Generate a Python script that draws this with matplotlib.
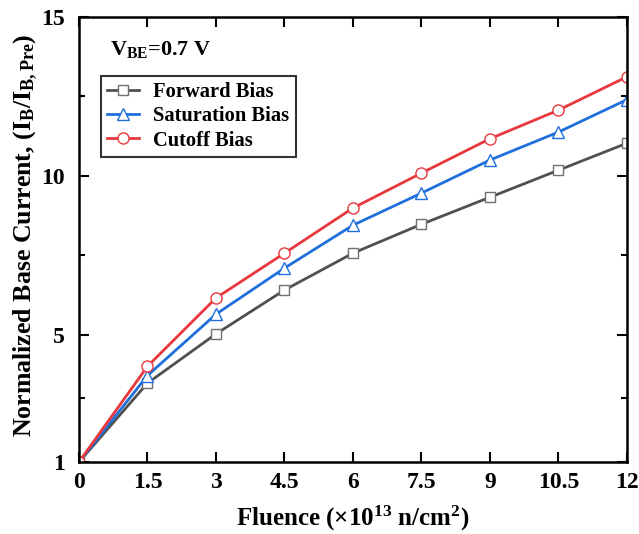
import numpy as np
import matplotlib.pyplot as plt
from matplotlib.ticker import FixedLocator

plt.rcParams['font.family'] = ['Liberation Serif', 'DejaVu Serif']
plt.rcParams['font.weight'] = 'bold'
plt.rcParams['mathtext.fontset'] = 'custom'
plt.rcParams['mathtext.rm'] = 'Liberation Serif:bold'
plt.rcParams['mathtext.it'] = 'Liberation Serif:bold'
plt.rcParams['mathtext.bf'] = 'Liberation Serif:bold'

fluence = [0, 1.5, 3, 4.5, 6, 7.5, 9, 10.5, 12]
forward_bias = [1.0, 3.48, 5.03, 6.41, 7.57, 8.48, 9.33, 10.18, 11.03]
saturation_bias = [1.0, 3.72, 5.65, 7.1, 8.45, 9.46, 10.5, 11.38, 12.4]
cutoff_bias = [1.0, 4.01, 6.16, 7.57, 8.99, 10.09, 11.17, 12.07, 13.12]

x_ticks = [0, 1.5, 3, 4.5, 6, 7.5, 9, 10.5, 12]
x_tick_labels = ['0', '1.5', '3', '4.5', '6', '7.5', '9', '10.5', '12']
y_ticks = [1, 5, 10, 15]
y_minor = [3, 7.5, 12.5]

fig = plt.figure(figsize=(6.39, 5.34), dpi=100)
ax = fig.add_axes([0.1236, 0.1348, 0.8576, 0.8334])

ax.plot(fluence, forward_bias, color='#505050', lw=2, marker='s', ms=7.5,
        mfc='white', mec='#707070', mew=1, label='Forward Bias')
ax.plot(fluence, saturation_bias, color='#1f6fdc', lw=2, marker='^', ms=8.5,
        mfc='white', mec='#1f6fdc', mew=1, label='Saturation Bias')
ax.plot(fluence, cutoff_bias, color='#e8383d', lw=2, marker='o', ms=8,
        mfc='white', mec='#e8383d', mew=1, label='Cutoff Bias')

ax.set_xlim(0, 12)
ax.set_ylim(1, 15)
ax.set_xticks(x_ticks)
ax.set_xticklabels(x_tick_labels)
ax.set_yticks(y_ticks)
ax.yaxis.set_minor_locator(FixedLocator(y_minor))
ax.tick_params(which='both', direction='in', top=True, right=True, width=1.5)
ax.tick_params(which='major', length=7, labelsize=17)
ax.tick_params(axis='x', which='major', pad=7)
ax.tick_params(axis='y', which='major', pad=10)
ax.tick_params(which='minor', length=4)
for s in ax.spines.values():
    s.set_linewidth(1.8)

ax.set_xlabel(r'Fluence (×10$^{13}$ n/cm$^{2}$)', fontsize=18, fontweight='bold', labelpad=8)
ax.set_ylabel(r'Normalized Base Current, (I$_{B}$/I$_{B,Pre}$)', fontsize=18.6,
              fontweight='bold')
ax.yaxis.set_label_coords(-0.071, 0.51)

ax.text(0.057, 0.926, r'V$_{BE}$=0.7 V', transform=ax.transAxes, fontsize=16,
        fontweight='bold', va='center')

leg = ax.legend(loc='upper left', bbox_to_anchor=(0.04, 0.867), fontsize=14.8,
                frameon=True, fancybox=False, edgecolor='black',
                handlelength=1.55, borderpad=0.3, labelspacing=0.2,
                handletextpad=0.7, borderaxespad=0)
leg.get_frame().set_linewidth(1.5)

fig.savefig('out.png', dpi=100)
